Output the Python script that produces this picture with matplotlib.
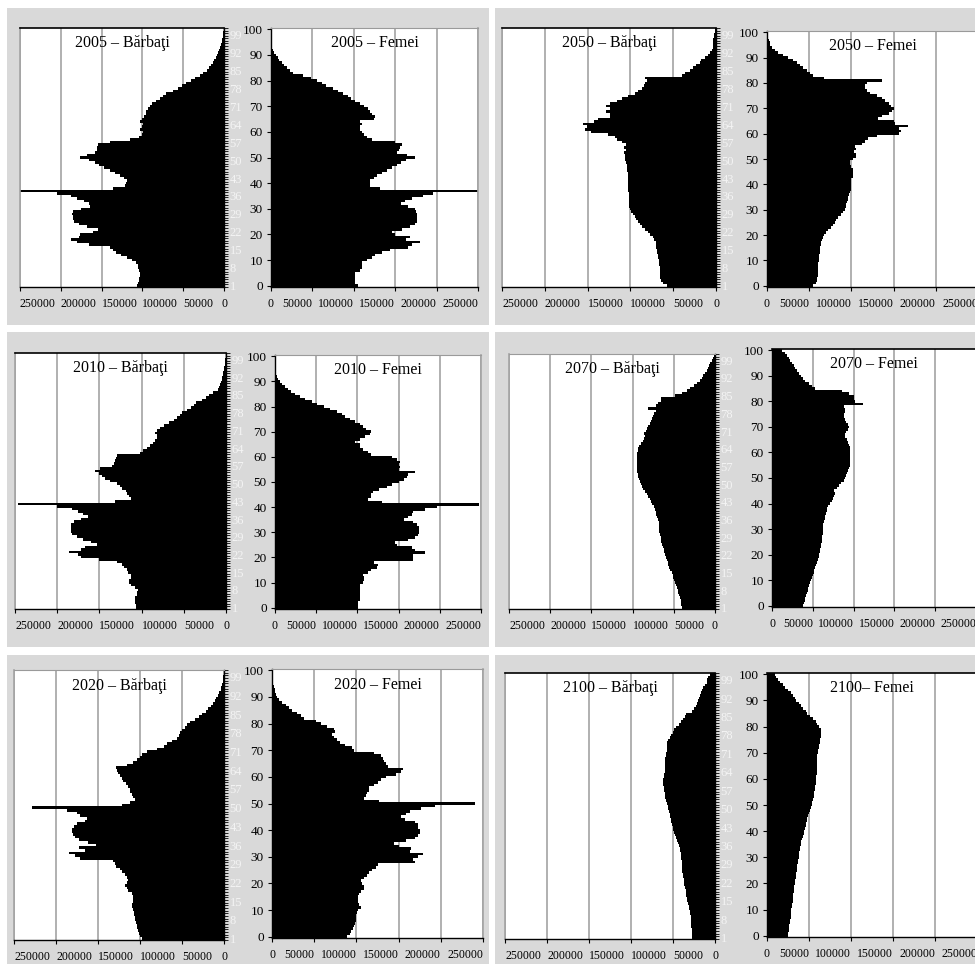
import numpy as np
import matplotlib
matplotlib.use("Agg")
import matplotlib.pyplot as plt
from matplotlib.patches import Rectangle

plt.rcParams['font.family'] = ['Liberation Serif', 'DejaVu Serif']

W, H = 975, 964

# Single years of age (0 .. 100)
ages = np.arange(101)

# Population by single year of age, thousands of persons
male_2005 = [107, 106, 104, 104, 103, 103, 104, 105, 106, 108,
             113, 119, 126, 132, 136, 140, 165, 180, 187, 178,
             176, 160, 154, 168, 178, 184, 185, 185, 186, 185,
             175, 164, 166, 172, 180, 188, 205, 252, 136, 121,
             120, 119, 122, 128, 134, 140, 147, 153, 158, 165,
             176, 168, 158, 156, 156, 154, 140, 115, 104, 100,
             99, 103, 100, 99, 103, 101, 98, 96, 95, 93,
             91, 88, 83, 78, 75, 71, 62, 56, 51, 46,
             41, 36, 30, 26, 21, 18, 16, 14, 12, 10,
             8.5, 7, 6, 5, 3.5, 2.8, 2, 1.5, 1, 0.8, 0.5]
female_2005 = [105, 102, 101, 101, 101, 102, 108, 110, 110, 110,
               116, 122, 126, 134, 144, 166, 170, 180, 163, 168,
               150, 146, 158, 168, 174, 176, 176, 176, 176, 175,
               174, 166, 157, 162, 170, 184, 196, 250, 132, 120,
               119, 120, 124, 128, 134, 140, 146, 152, 157, 163,
               174, 164, 152, 154, 156, 158, 150, 122, 116, 112,
               110, 108, 108, 110, 108, 124, 125, 122, 120, 117,
               112, 107, 102, 97, 93, 87, 81, 75, 67, 61,
               55, 48, 39, 27, 23, 19, 16, 13, 10, 8,
               5.5, 4, 2.5, 1.5, 1, 0.8, 0.6, 0.5, 0.4, 0.3, 0.2]

male_2010 = [107, 107, 108, 108, 108, 106, 105, 104, 108, 112,
             115, 115, 113, 112, 116, 117, 121, 123, 129, 150,
             172, 175, 186, 172, 167, 153, 160, 170, 176, 182,
             184, 184, 184, 184, 180, 172, 163, 169, 175, 182,
             200, 247, 131, 113, 115, 117, 119, 123, 126, 129,
             137, 143, 147, 151, 155, 149, 135, 133, 131, 130,
             129, 102, 98, 94, 90, 86, 84, 82, 82, 84,
             82, 78, 74, 68, 62, 58, 55, 52, 46, 41,
             38, 35, 29, 24, 20, 15, 10, 8, 7, 6,
             5, 4.5, 4, 3, 2.5, 2, 1.5, 1, 0.8, 0.5, 0.3]
female_2010 = [101, 101, 101, 103, 103, 103, 103, 103, 103, 103,
               107, 108, 108, 107, 113, 117, 124, 125, 120, 168,
               168, 168, 182, 170, 166, 148, 146, 162, 170, 174,
               175, 175, 175, 172, 168, 156, 162, 166, 168, 182,
               196, 247, 130, 113, 117, 117, 119, 126, 136, 142,
               150, 156, 160, 162, 170, 150, 152, 150, 152, 148,
               142, 117, 113, 107, 103, 103, 97, 103, 109, 115,
               116, 111, 107, 103, 97, 91, 85, 81, 75, 67,
               59, 51, 45, 36, 30, 24, 20, 16, 12, 9,
               6, 4, 2, 1.2, 0.6, 0.4, 0.3, 0.2, 0.2, 0.1, 0.1]

male_2020 = [98, 100, 101, 102, 103, 104, 105, 106, 106, 107,
             107, 108, 109, 109, 108, 108, 108, 110, 114, 116,
             118, 116, 114, 116, 118, 122, 124, 128, 130, 132,
             171, 177, 185, 165, 173, 152, 162, 173, 177, 180,
             181, 181, 179, 175, 165, 163, 171, 175, 187, 229,
             122, 112, 106, 108, 110, 112, 112, 114, 117, 120,
             122, 124, 126, 127, 128, 116, 108, 104, 100, 98,
             92, 80, 72, 68, 62, 56, 54, 52, 50, 46,
             44, 40, 34, 30, 26, 22, 19, 16, 13, 11,
             9, 7, 5.5, 4, 3, 2, 1.5, 1, 1, 0.5, 0.3]
female_2020 = [89, 93, 94, 96, 97, 98, 99, 99, 100, 101,
               102, 105, 103, 102, 102, 102, 103, 105, 109, 109,
               107, 105, 109, 113, 115, 119, 123, 125, 169, 167,
               173, 179, 163, 165, 151, 145, 159, 169, 173, 175,
               175, 173, 173, 169, 157, 153, 159, 163, 177, 193,
               240, 127, 109, 111, 113, 115, 115, 121, 125, 129,
               135, 147, 153, 155, 137, 135, 133, 131, 129, 121,
               97, 95, 87, 81, 77, 73, 71, 75, 73, 65,
               58, 52, 38, 34, 30, 24, 20, 16, 12, 8,
               6, 5, 4, 3, 2, 1, 0.8, 0.6, 0.5, 0.4, 0.3]

male_2050 = [57, 62, 64, 65, 65, 66, 66, 66, 67, 67,
             67, 68, 68, 69, 69, 70, 70, 70, 72, 74,
             77, 80, 83, 87, 89, 91, 93, 95, 97, 99,
             100, 102, 102, 102, 102, 102, 102, 103, 103, 103,
             103, 103, 103, 103, 103, 104, 104, 104, 105, 106,
             106, 106, 107, 105, 107, 105, 110, 116, 118, 126,
             146, 153, 151, 155, 142, 138, 124, 124, 128, 124,
             128, 124, 116, 110, 103, 95, 91, 87, 84, 83,
             81, 83, 40, 36, 30, 27, 23, 19, 17, 13,
             9, 7, 5, 4, 3, 3, 3, 2, 2, 1.5, 1]
female_2050 = [55, 58, 59, 59, 60, 60, 61, 61, 61, 61,
               62, 62, 62, 63, 63, 63, 64, 64, 65, 66,
               68, 70, 72, 76, 78, 80, 82, 84, 88, 90,
               92, 94, 94, 95, 96, 96, 97, 98, 99, 99,
               99, 100, 100, 102, 102, 102, 102, 100, 98, 98,
               102, 105, 105, 103, 106, 104, 112, 116, 120, 130,
               156, 159, 156, 167, 152, 150, 132, 136, 144, 148,
               150, 147, 144, 140, 136, 130, 122, 118, 116, 116,
               118, 136, 68, 55, 51, 47, 43, 39, 35, 31,
               25, 19, 13, 9, 6, 4, 3, 2, 1.5, 1, 1]

male_2070 = [40.5, 41, 41, 41.5, 42.5, 43.5, 44.5, 45.5, 46.5, 47.5,
             48.5, 49.5, 50.5, 51.5, 52.5, 54.5, 55.5, 56.5, 57.5, 58.5,
             59.5, 60.5, 61.5, 62.5, 63, 64, 65, 65.5, 66, 67,
             67.5, 68, 68, 68, 68.5, 69, 70, 71, 72, 73,
             74.5, 76, 77.5, 79, 81, 83, 85, 87, 88.5, 90,
             91, 92, 93, 94, 94.5, 95, 95, 95, 95, 95,
             95, 95, 94, 93, 92, 90, 87, 86, 85, 86,
             84, 83, 81, 79, 78, 76, 75, 74, 71, 81,
             71, 69, 66, 65, 49, 40, 34, 30, 26, 22,
             18, 16, 14, 12, 10, 9, 7, 6, 4, 2, 1]
female_2070 = [38, 39, 40, 41, 42, 43, 44, 44.5, 45.5, 46.5,
               48, 49, 50, 51, 52, 53, 54, 55, 56, 57,
               58, 58.5, 59, 60, 60.5, 61, 61, 61.5, 62, 62,
               62.5, 63, 63, 63.5, 64.5, 65, 66, 67, 68, 69,
               71, 73, 75, 76.5, 77.5, 76, 79.5, 82, 85, 88,
               90, 91, 92.5, 93, 94, 95, 95, 95, 95, 95,
               95, 95, 95, 94, 93, 92, 90, 90, 90.5, 93,
               94, 93, 90.5, 89, 88, 88, 89, 90, 88, 112,
               102, 100, 100, 94, 86, 53, 49, 45, 41, 37.5,
               35, 32.5, 30.5, 28.5, 26.5, 24.5, 22.5, 20.5, 18.5, 16.5, 12]

male_2100 = [27, 27, 27, 27.5, 28, 28, 28.5, 28.5, 29, 29.5,
             30, 31, 31.5, 32, 33, 33.5, 34, 34.5, 35, 36,
             36.5, 37, 37.5, 38, 38.5, 39, 39.5, 39.5, 39.5, 39.5,
             40, 40.5, 41, 41.5, 42, 43, 43.5, 45, 46, 47.5,
             48.5, 49.5, 50.5, 51, 52, 52.5, 53.5, 54, 55, 56,
             56.5, 57.5, 58, 59, 59.5, 60, 60.5, 61, 61.5, 61.5,
             61.5, 61, 61, 60, 60, 60, 59.5, 59.5, 59, 58.5,
             58, 57.5, 57.5, 57.5, 57, 55.5, 54, 52, 50.5, 49,
             46, 43, 40, 38, 36, 34, 27, 25, 23, 22,
             20, 19, 18, 17, 16, 14, 12, 10, 9, 8, 6]
female_2100 = [25, 25.5, 26, 26, 26.5, 27, 27.5, 28, 28, 28.5,
               29, 29.5, 30, 30.5, 31, 31, 31.5, 32, 32, 32.5,
               33, 33.5, 34, 34.5, 35, 35.5, 36, 36, 36.5, 37,
               37.5, 38, 38.5, 39, 39.5, 40, 40.5, 41.5, 42.5, 43.5,
               44.5, 45, 46, 46.5, 47.5, 48, 49, 50, 51.5, 52.5,
               53, 54, 55, 55.5, 56, 56.5, 57, 57.5, 58, 58,
               58.5, 58.8, 59, 59, 59, 59.3, 59.5, 59.6, 59.8, 60,
               60.3, 60.7, 61.5, 62, 62.7, 63.5, 64, 64, 64, 64,
               62, 59.5, 58, 55, 51, 48, 46, 43, 40.5, 38,
               35, 33, 31, 28, 25, 22, 19, 16, 13, 11, 9]

years = ["2005", "2050", "2010", "2070", "2020", "2100"]
male_series = [male_2005, male_2050, male_2010, male_2070, male_2020, male_2100]
female_series = [female_2005, female_2050, female_2010, female_2070, female_2020, female_2100]
female_titles = ["2005 – Femei", "2050 – Femei", "2010 – Femei",
                 "2070 – Femei", "2020 – Femei", "2100– Femei"]

x_ticks = [0, 50000, 100000, 150000, 200000, 250000]
male_age_ticks = ages[::7]
male_age_labels = [str(a + 1) for a in male_age_ticks]
female_age_ticks = list(range(0, 101, 10))

# Layout in pixels: (x0, y0, x1, y1)
cells = [(7, 8, 489, 325), (495, 8, 975, 325),
         (7, 332, 489, 647), (495, 332, 975, 647),
         (7, 655, 489, 964), (495, 655, 975, 964)]
male_boxes = [(20, 28, 224, 287), (502, 28, 716, 287),
              (15, 353, 226, 609), (509, 354, 715, 609),
              (14, 670, 224, 940), (505, 673, 715, 939)]
female_boxes = [(271, 28, 478, 287), (767, 31, 978, 287),
                (275, 355, 481, 609), (772, 349, 976, 607),
                (272, 669, 483, 938), (767, 673, 977, 937)]
male_top = ["black", "black", "black", "#9a9a9a", "#9a9a9a", "black"]
female_top = ["#9a9a9a", "#9a9a9a", "#9a9a9a", "black", "#9a9a9a", "black"]

CELL = "#d9d9d9"
GRID = "#a3a3a3"
LIGHT = "#f4f4f4"

fig = plt.figure(figsize=(W / 100, H / 100), dpi=100)
fig.patch.set_facecolor("white")

for (x0, y0, x1, y1) in cells:
    fig.add_artist(Rectangle((x0 / W, 1 - y1 / H), (x1 - x0) / W, (y1 - y0) / H,
                             transform=fig.transFigure, facecolor=CELL,
                             edgecolor="none", zorder=0))


def add_ax(box):
    x0, y0, x1, y1 = box
    return fig.add_axes([x0 / W, 1 - y1 / H, (x1 - x0) / W, (y1 - y0) / H])


def style_common(ax, align):
    ax.set_ylim(-0.5, 100.5)
    ax.tick_params(axis="x", direction="out", length=3, width=0.8,
                   labelsize=8.5, pad=5, colors="black")
    ax.set_xticks(x_ticks)
    labels = ax.set_xticklabels([str(v) for v in x_ticks])
    # non-zero labels hang off their tick towards the centre of the pyramid
    for lab, v in zip(labels, x_ticks):
        if v != 0:
            lab.set_horizontalalignment(align)
    ax.grid(axis="x", color=GRID, linewidth=1.2)
    ax.grid(axis="y", visible=False)
    ax.set_axisbelow(True)
    ax.set_facecolor("white")
    ax.spines["bottom"].set_color("black")
    ax.spines["bottom"].set_linewidth(1.0)


for i in range(6):
    male = np.asarray(male_series[i]) * 1000
    female = np.asarray(female_series[i]) * 1000

    # Men: bars grow to the left, age labels on the right side
    axm = add_ax(male_boxes[i])
    axm.barh(ages, male, height=1.0, color="black", linewidth=0,
             antialiased=False, zorder=2)
    axm.set_xlim(250000, 0)
    style_common(axm, "left")
    axm.yaxis.tick_right()
    axm.set_yticks(male_age_ticks)
    axm.set_yticklabels(male_age_labels)
    axm.set_yticks(np.arange(-0.5, 101, 1), minor=True)
    axm.tick_params(axis="y", which="major", length=0, pad=4,
                    labelsize=9, labelcolor=LIGHT)
    axm.tick_params(axis="y", which="minor", direction="out", length=3,
                    width=0.6, color="black")
    axm.spines["left"].set_color(GRID)
    axm.spines["left"].set_linewidth(1.2)
    axm.spines["right"].set_color("black")
    axm.spines["right"].set_linewidth(1.0)
    axm.spines["top"].set_color(male_top[i])
    axm.spines["top"].set_linewidth(1.2 if male_top[i] == "black" else 0.8)
    axm.text(0.5, 0.942, f"{years[i]} – Bărbaţi", transform=axm.transAxes,
             ha="center", va="center", fontsize=11.5, zorder=5)

    # Women: bars grow to the right, age labels on the left side
    axf = add_ax(female_boxes[i])
    axf.barh(ages, female, height=1.0, color="black", linewidth=0,
             antialiased=False, zorder=2)
    axf.set_xlim(0, 250000)
    style_common(axf, "right")
    axf.set_yticks(female_age_ticks)
    axf.set_yticklabels([str(v) for v in female_age_ticks])
    axf.tick_params(axis="y", direction="out", length=3, width=0.8,
                    pad=3, labelsize=9.5, labelcolor="black")
    axf.spines["right"].set_color(GRID)
    axf.spines["right"].set_linewidth(1.2)
    axf.spines["left"].set_color("black")
    axf.spines["left"].set_linewidth(1.0)
    axf.spines["top"].set_color(female_top[i])
    axf.spines["top"].set_linewidth(1.2 if female_top[i] == "black" else 0.8)
    axf.text(0.5, 0.942, female_titles[i], transform=axf.transAxes,
             ha="center", va="center", fontsize=11.5, zorder=5)

fig.savefig("out.png", dpi=100)
